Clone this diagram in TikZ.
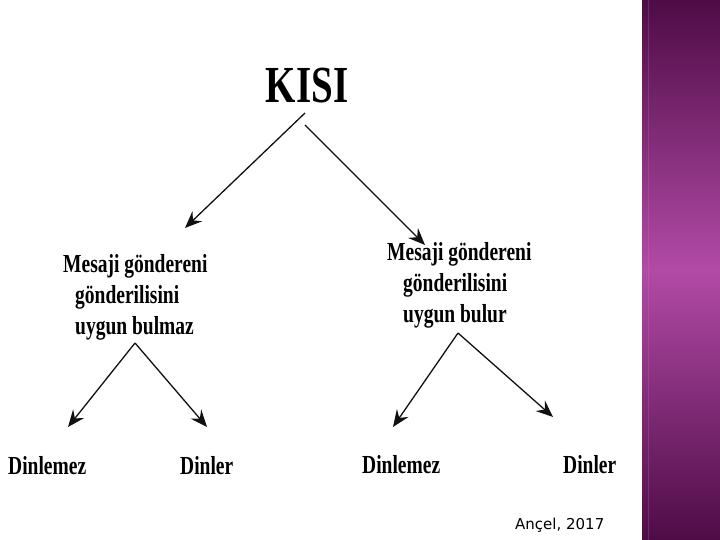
\documentclass[tikz,border=0pt]{standalone}
\usepackage{fontspec}
\usepackage{tikz}
\usetikzlibrary{arrows.meta}
\newfontfamily\slideserif{Liberation Serif}[FakeStretch=0.75]
\newfontfamily\slidenote{DejaVu Sans}
\definecolor{slideInk}{HTML}{111111}
\definecolor{slidePlumDark}{HTML}{4E0C46}
\definecolor{slidePlumLight}{HTML}{B24AA6}
\tikzset{
  title/.style={
    inner sep=0pt,
    anchor=base,
    font=\slideserif\bfseries\fontsize{52}{56}\selectfont
  },
  choice/.style={
    inner sep=0pt,
    anchor=base west,
    align=left,
    font=\slideserif\bfseries\fontsize{26}{31}\selectfont
  },
  outcome/.style={
    inner sep=0pt,
    anchor=base west,
    font=\slideserif\bfseries\fontsize{26}{30}\selectfont
  },
  arrow/.style={
    -{Stealth[length=17pt,width=14pt,inset=6pt]},
    line width=1.3pt,
    draw=slideInk
  }
}

\begin{document}
\begin{tikzpicture}[x=1pt,y=1pt]
  \useasboundingbox (0,0) rectangle (720,540);
  \fill[white] (0,0) rectangle (720,540);
  % side band
  \shade[top color=slidePlumDark,bottom color=slidePlumDark,middle color=slidePlumLight]
    (642,0) rectangle (720,540);
  \draw[slidePlumLight!70!white,opacity=0.25,line width=1pt] (648,0) -- (648,540);

  \node[title] (kisi) at (307,437) {KISI};
  % base of a multi-line node is its last line
  \node[choice] (bulmaz) at (63,205)
    {Mesaji göndereni\\\hspace*{12pt}gönderilisini\\\hspace*{12pt}uygun bulmaz};
  \node[choice] (bulur) at (387,217)
    {Mesaji göndereni\\\hspace*{16pt}gönderilisini\\\hspace*{16pt}uygun bulur};
  \node[outcome] (dinlemezL) at (8,65) {Dinlemez};
  \node[outcome] (dinlerL) at (180,65) {Dinler};
  \node[outcome] (dinlemezR) at (362,66) {Dinlemez};
  \node[outcome] (dinlerR) at (563,66) {Dinler};
  \node[inner sep=0pt,anchor=base west,font=\slidenote\fontsize{15}{18}\selectfont]
    (source) at (515,10) {Ançel, 2017};

  \draw[arrow] ([shift={(-2,-10)}]kisi.base) -- ([shift={(122,107)}]bulmaz.base west);
  \draw[arrow] ([shift={(-2,-22)}]kisi.base) -- ([shift={(38,78)}]bulur.base west);
  \draw[arrow] ([shift={(72,-8)}]bulmaz.base west) -- ([shift={(60,48)}]dinlemezL.base west);
  \draw[arrow] ([shift={(72,-8)}]bulmaz.base west) -- ([shift={(27,48)}]dinlerL.base west);
  \draw[arrow] ([shift={(71,-10)}]bulur.base west) -- ([shift={(31,47)}]dinlemezR.base west);
  \draw[arrow] ([shift={(71,-10)}]bulur.base west) -- ([shift={(-10,57)}]dinlerR.base west);
\end{tikzpicture}
\end{document}
